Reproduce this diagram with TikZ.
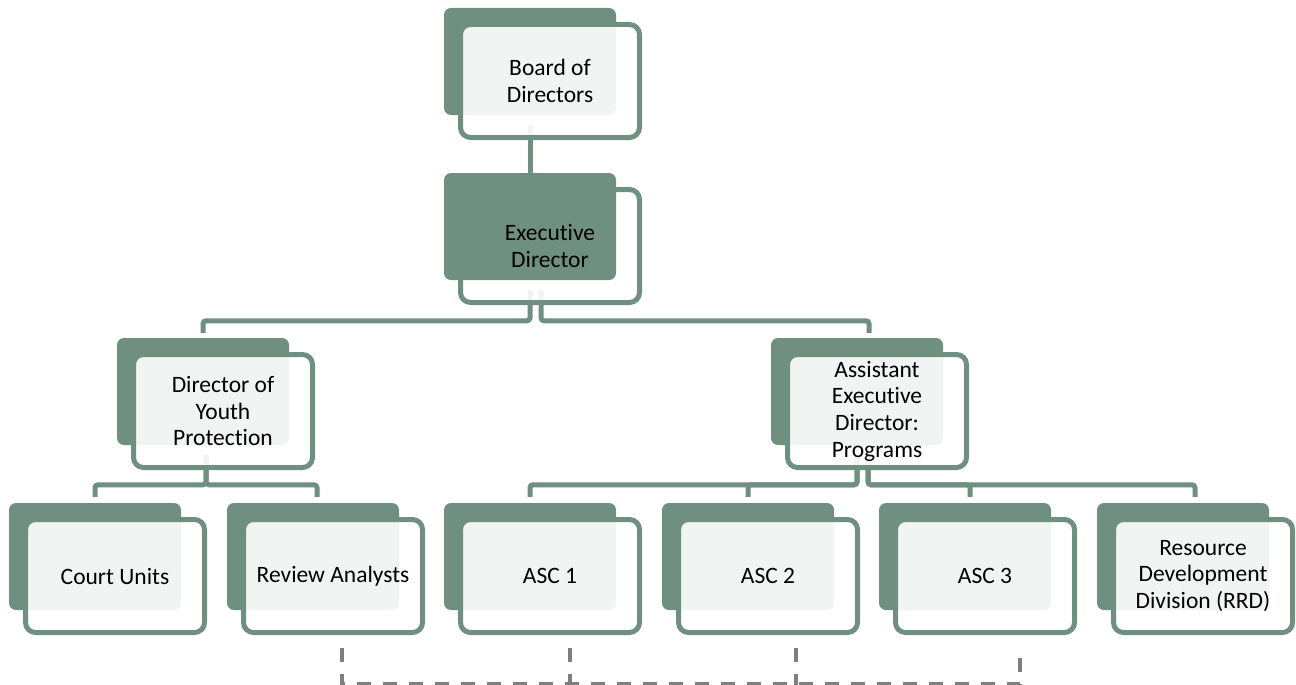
\documentclass[tikz,border=0pt]{standalone}
\usepackage{fontspec}
\setmainfont{Carlito}[Ligatures={NoCommon}]
\usetikzlibrary{calc,backgrounds}
\definecolor{sg}{RGB}{111,143,129}
\definecolor{dg}{RGB}{127,127,127}
\newcommand\orgunit[4]{%
  \node[back] (#1-b) at (#2+86,#3+53.5) {};
  \node[front] (#1) at (#2+106,#3+73) {#4};}
\begin{document}
\begin{tikzpicture}[x=1pt,y=-1pt,
  back/.style={fill=sg, draw=none, rounded corners=7pt, minimum width=172pt, minimum height=107pt, inner sep=0pt},
  front/.style={draw=sg, line width=5pt, fill=white, fill opacity=0.9, text opacity=1, rounded corners=10pt, minimum width=179pt, minimum height=113pt, inner sep=0pt, align=center, font=\fontsize{23.5}{26.7}\selectfont},
  label/.style={align=center, inner sep=0pt, font=\fontsize{23.5}{26.7}\selectfont},
  conn/.style={draw=sg, line width=5pt, rounded corners=3pt},
  dlink/.style={draw=dg, line width=4.5pt, dash pattern=on 14pt off 12pt}]
\useasboundingbox (0,0) rectangle (1296,685);

\orgunit{board}{444}{8}{Board of\\Directors}
% executive: front box behind the dark box
\node[front] (exec) at (550,246) {};
\node[back] (exec-b) at (530,226.5) {};
\node[label] (exectext) at (exec.center) {Executive\\Director};

\orgunit{youth}{117}{338}{Director of\\Youth\\Protection}
\orgunit{asst}{771}{338}{Assistant\\Executive\\Director:\\Programs}
\orgunit{court}{9}{503}{Court Units}
\orgunit{review}{227}{503}{Review Analysts}
\orgunit{asc1}{444}{503}{ASC 1}
\orgunit{asc2}{662}{503}{ASC 2}
\orgunit{asc3}{879}{503}{ASC 3}
\orgunit{rrd}{1097}{503}{Resource\\Development\\Division (RRD)}

\begin{pgfonlayer}{background}
\draw[conn] ([shift={(-20pt,15.5pt)}]board.south) -- (exec-b.north);
\draw[conn] ([shift={(-20pt,15pt)}]exec.south) |- ([yshift=17pt]youth-b.north) -- ([yshift=5pt]youth-b.north);
\draw[conn] ([shift={(-9pt,15pt)}]exec.south) |- ([shift={(12pt,17pt)}]asst-b.north) -- ([shift={(12pt,5pt)}]asst-b.north);
\draw[conn] ([shift={(-17pt,15pt)}]youth.south) |- ([yshift=18pt]court-b.north) -- ([yshift=6pt]court-b.north);
\draw[conn] ([shift={(-17pt,15pt)}]youth.south) |- ([shift={(4pt,18pt)}]review-b.north) -- ([shift={(4pt,6pt)}]review-b.north);
\draw[conn] ([shift={(-20pt,15pt)}]asst.south) |- ([yshift=18pt]asc1-b.north) -- ([yshift=6pt]asc1-b.north);
\draw[conn] ([shift={(-20pt,15pt)}]asst.south) |- ([yshift=18pt]asc2-b.north) -- ([yshift=6pt]asc2-b.north);
\draw[conn] ([shift={(-9pt,15pt)}]asst.south) |- ([shift={(5pt,18pt)}]asc3-b.north) -- ([shift={(5pt,6pt)}]asc3-b.north);
\draw[conn] ([shift={(-9pt,15pt)}]asst.south) |- ([shift={(12pt,18pt)}]rrd-b.north) -- ([shift={(12pt,6pt)}]rrd-b.north);
\end{pgfonlayer}

\draw[dlink] ([shift={(9pt,-12.5pt)}]review.south) |- ([shift={(35pt,-49.5pt)}]asc3.south) -- ([shift={(35pt,-12.5pt)}]asc3.south);
\draw[dlink] ([shift={(20pt,-12.5pt)}]asc1.south) -- ([shift={(20pt,-49.5pt)}]asc1.south);
\draw[dlink] ([shift={(28pt,-12.5pt)}]asc2.south) -- ([shift={(28pt,-49.5pt)}]asc2.south);
\end{tikzpicture}
\end{document}
